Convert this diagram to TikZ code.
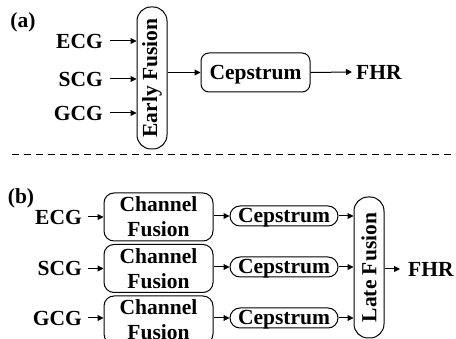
\documentclass[tikz,border=0pt]{standalone}
\usepackage{fontspec}
\setmainfont{Liberation Serif}
\usetikzlibrary{arrows.meta}
\begin{document}
\begin{tikzpicture}[x=1pt,y=-1pt,
  every node/.style={font=\bfseries\fontsize{21.5}{25}\selectfont},
  txt/.style={inner sep=0pt},
  intxt/.style={inner ysep=0pt, inner xsep=0pt, anchor=east},
  tallbox/.style={draw, line width=1pt, rounded corners=14pt, minimum width=30pt, inner sep=0pt},
  cepbig/.style={draw, line width=1pt, rounded corners=8pt, minimum width=109pt, minimum height=39pt, inner sep=0pt, text depth=0pt},
  chbox/.style={draw, line width=1pt, rounded corners=10pt, minimum width=109pt, minimum height=48pt, inner sep=0pt, align=center},
  cepsmall/.style={draw, line width=1pt, rounded corners=10pt, minimum width=108pt, minimum height=20pt, inner sep=0pt, text depth=0pt, text height=14pt},
  arr/.style={line width=1pt, -{Triangle[length=6pt,width=6pt]}}
]
\useasboundingbox (0,0) rectangle (456,339);
\clip (0,0) rectangle (456,339);

% ---- (a) ----
\node[txt] (la) at (23,22) {(a)};
\node[intxt] (ecgA) at (103,41) {ECG};
\node[intxt] (scgA) at (103,79) {SCG};
\node[intxt] (gcgA) at (103,113) {GCG};
\node[tallbox, minimum height=142pt] (ef) at (152,78) {\rotatebox{90}{Early Fusion}};
\node[cepbig] (cepA) at (255.5,72.5) {Cepstrum};
\node[txt, anchor=west] (fhrA) at (356,72) {FHR};

\draw[arr] ([xshift=7pt]ecgA.east) -- (ecgA.east -| ef.west);
\draw[arr] ([xshift=7pt]scgA.east) -- (scgA.east -| ef.west);
\draw[arr] ([xshift=7pt]gcgA.east) -- (gcgA.east -| ef.west);
\draw[arr] (ef.east |- cepA.west) -- (cepA.west);
\draw[arr] (cepA.east) -- ([xshift=-4pt]fhrA.west);

% separator
\coordinate (sepL) at (12,155);
\coordinate (sepR) at (456,155);
\draw[line width=1pt, dash pattern=on 7pt off 5pt] (sepL) -- (sepR);

% ---- (b) ----
\node[txt] (lb) at (21,198) {(b)};
\node[intxt] (ecgB) at (82,217) {ECG};
\node[intxt] (scgB) at (82,268.5) {SCG};
\node[intxt] (gcgB) at (82,318) {GCG};

\node[chbox] (ch1) at (158.5,217) {Channel\\Fusion};
\node[chbox] (ch2) at (158.5,268.5) {Channel\\Fusion};
\node[chbox] (ch3) at (158.5,320) {Channel\\Fusion};

\node[cepsmall] (c1) at (284,216) {Cepstrum};
\node[cepsmall] (c2) at (284,267) {Cepstrum};
\node[cepsmall] (c3) at (284,318) {Cepstrum};

\node[tallbox, minimum height=141pt] (lf) at (369,267.5) {\rotatebox{90}{Late Fusion}};
\node[txt, anchor=west] (fhrB) at (408,269) {FHR};

\draw[arr] ([xshift=6pt]ecgB.east) -- (ecgB.east -| ch1.west);
\draw[arr] ([xshift=6pt]scgB.east) -- (scgB.east -| ch2.west);
\draw[arr] ([xshift=6pt]gcgB.east) -- (gcgB.east -| ch3.west);

\draw[arr] (ch1.east |- c1.west) -- (c1.west);
\draw[arr] (ch2.east |- c2.west) -- (c2.west);
\draw[arr] (ch3.east |- c3.west) -- (c3.west);

\draw[arr] (c1.east) -- (c1.east -| lf.west);
\draw[arr] (c2.east) -- (c2.east -| lf.west);
\draw[arr] (c3.east) -- (c3.east -| lf.west);

\draw[arr] (lf.east |- fhrB.west) -- ([xshift=-8pt]fhrB.west);
\end{tikzpicture}
\end{document}
